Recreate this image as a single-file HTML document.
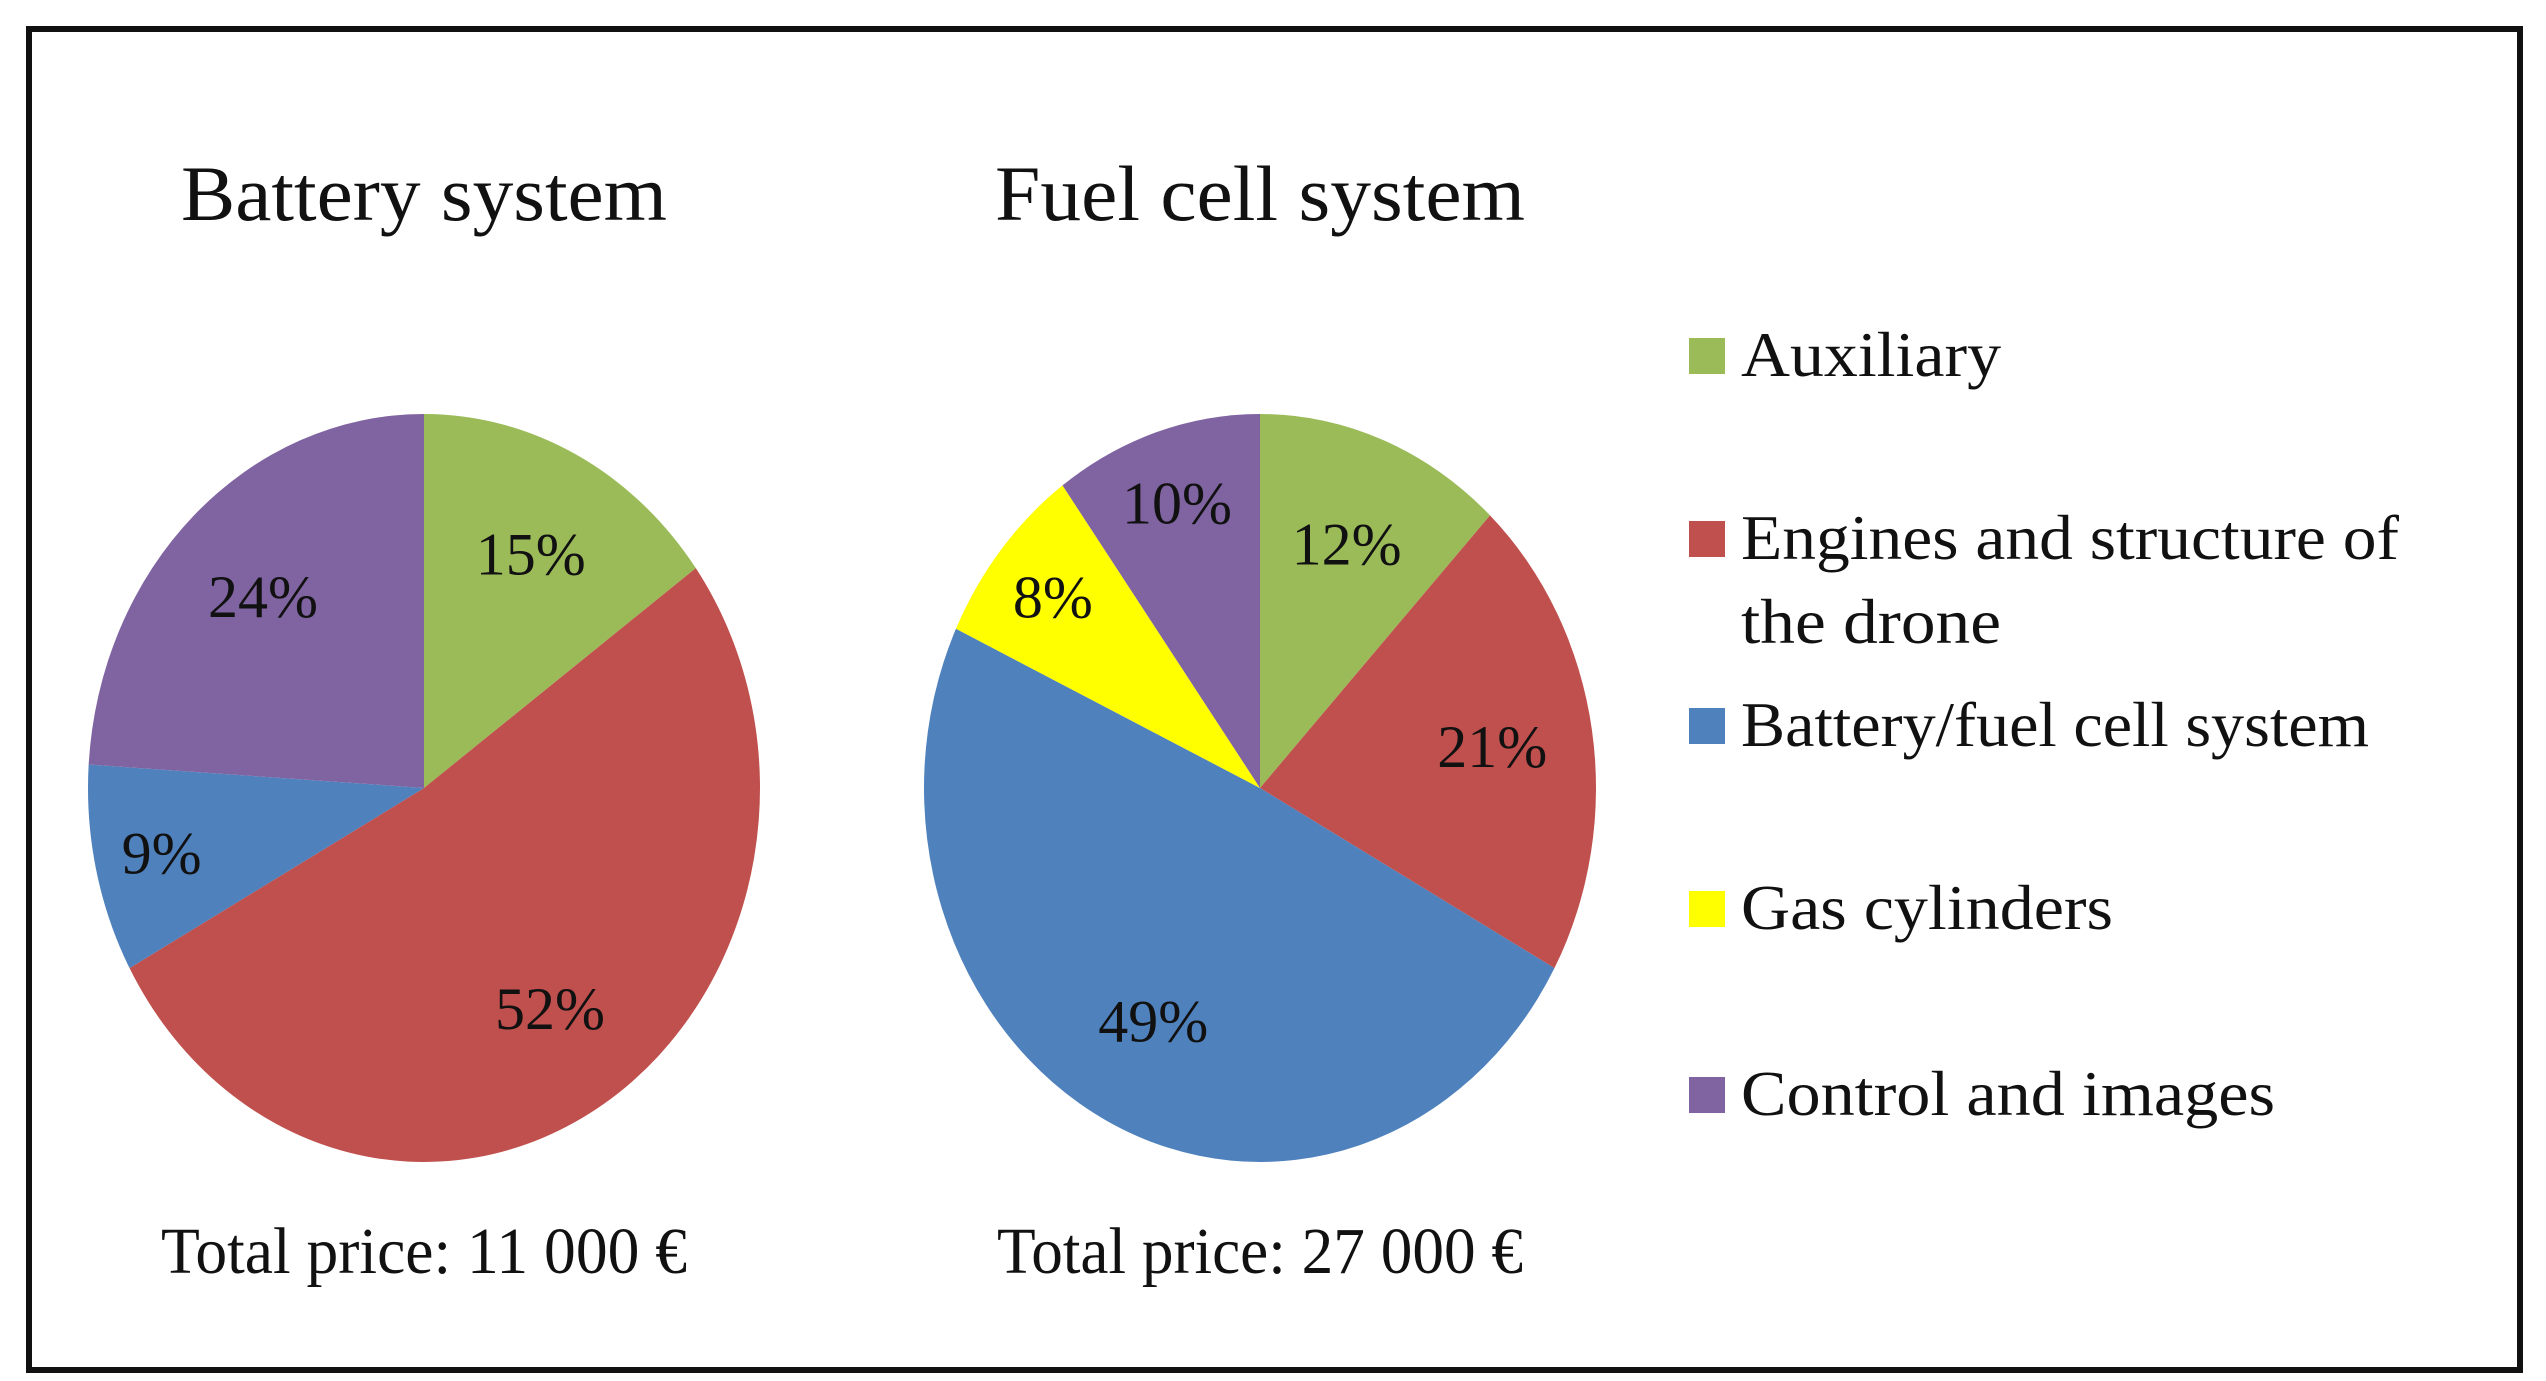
<!DOCTYPE html>
<html><head><meta charset="utf-8"><style>
html,body{margin:0;padding:0;background:#fff;}
svg{display:block;}
text{font-family:"Liberation Serif",serif;fill:#111;}
</style></head><body>
<svg id="chart" width="2546" height="1381" viewBox="0 0 2546 1381">
<rect x="29" y="29" width="2491" height="1341" fill="#fff" stroke="#111" stroke-width="6"/>
<text x="424" y="220" font-size="78" text-anchor="middle" textLength="486" lengthAdjust="spacingAndGlyphs">Battery system</text>
<text x="1260" y="220" font-size="78" text-anchor="middle" textLength="530" lengthAdjust="spacingAndGlyphs">Fuel cell system</text>
<text x="424" y="1273" font-size="66" text-anchor="middle" textLength="526" lengthAdjust="spacingAndGlyphs">Total price: 11 000 €</text>
<text x="1260" y="1273" font-size="66" text-anchor="middle" textLength="526" lengthAdjust="spacingAndGlyphs">Total price: 27 000 €</text>
<g id="pies"></g>
<g id="legend"></g>
</svg>
<script>
const categories = ["Auxiliary", "Engines and structure of the drone", "Battery/fuel cell system", "Gas cylinders", "Control and images"];
const colors = ["#9bbb59", "#c0504d", "#4f81bd", "#ffff00", "#8064a2"];
const batteryValues = [15, 52, 9, 0, 24];
const fuelCellValues = [12, 21, 49, 8, 10];
const pieCenters = [424, 1260];
const NS = "http://www.w3.org/2000/svg";
const pies = document.getElementById("pies");
const cy = 788, rx = 336, ry = 374;
function pt(cx, frac, r){ const a = frac * 2 * Math.PI; return [cx + r*rx*Math.sin(a), cy - r*ry*Math.cos(a)]; }
function drawPie(values, cx, name){
  const total = values.reduce((a,b)=>a+b,0);
  let acc = 0;
  values.forEach((v,i)=>{
    if(v<=0) return;
    const f0 = acc/total, f1 = (acc+v)/total; acc += v;
    const p0 = pt(cx,f0,1), p1 = pt(cx,f1,1);
    const large = (f1-f0)>0.5?1:0;
    const path = document.createElementNS(NS,"path");
    path.setAttribute("d",`M${cx},${cy} L${p0[0]},${p0[1]} A${rx},${ry} 0 ${large} 1 ${p1[0]},${p1[1]} Z`);
    path.setAttribute("fill",colors[i]);
    
    
    pies.appendChild(path);
    const lr = (f1-f0)<0.1 ? 0.8 : 0.7;
    const lp = pt(cx,(f0+f1)/2,lr);
    const t = document.createElementNS(NS,"text");
    t.setAttribute("x",lp[0]); t.setAttribute("y",lp[1]+20);
    t.setAttribute("font-size","60"); t.setAttribute("text-anchor","middle");
    t.textContent = v + "%";
    
    
    pies.appendChild(t);
  });
}
drawPie(batteryValues, pieCenters[0], "battery");
drawPie(fuelCellValues, pieCenters[1], "fuel-cell");
const legend = document.getElementById("legend");
const legendRows = [[356],[539,623],[726],[909],[1095]];
const legendLines = [["Auxiliary"],["Engines and structure of","the drone"],["Battery/fuel cell system"],["Gas cylinders"],["Control and images"]];
const legendWidths = [[260],[658,260],[628],[372],[534]];
legendRows.forEach((ys,i)=>{
  const r = document.createElementNS(NS,"rect");
  r.setAttribute("x",1689); r.setAttribute("y",ys[0]-18); r.setAttribute("width",36); r.setAttribute("height",36);
  r.setAttribute("fill",colors[i]);
  
  
  legend.appendChild(r);
  ys.forEach((y,j)=>{
    const t = document.createElementNS(NS,"text");
    t.setAttribute("x",1741); t.setAttribute("y",y+20); t.setAttribute("font-size","64");
    t.setAttribute("textLength",legendWidths[i][j]); t.setAttribute("lengthAdjust","spacingAndGlyphs");
    t.textContent = legendLines[i][j];
    
    
    legend.appendChild(t);
  });
});
</script>
</body></html>
